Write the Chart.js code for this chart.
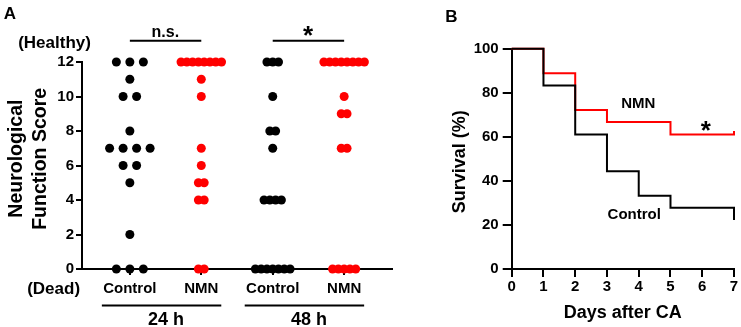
<!DOCTYPE html>
<html>
<head>
<meta charset="utf-8">
<script src="https://cdn.jsdelivr.net/npm/chart.js@4"></script>
<style>
html, body { margin: 0; padding: 0; background: #fff; }
#wrap { position: relative; width: 741px; height: 327px; overflow: hidden; }
canvas { position: absolute; top: 0; }
#chartA { left: 0; }
#chartB { left: 420px; }
</style>
</head>
<body>
<div id="wrap">
  <canvas id="chartA" width="410" height="327"></canvas>
  <canvas id="chartB" width="321" height="327"></canvas>
</div>
<script>
const FONT = '"Liberation Sans", Arial, Helvetica, sans-serif';
const RED = '#ff0000';
const BLACK = '#000000';

// Panel A: neurological function score, one value per animal
const groupLabels = ['Control', 'NMN', 'Control', 'NMN'];
const timeLabels = ['24 h', '48 h'];
const control24 = [12, 12, 12, 11, 10, 10, 8, 7, 7, 7, 7, 6, 6, 5, 2, 0, 0, 0];
const nmn24 = [12, 12, 12, 12, 12, 12, 12, 12, 11, 10, 7, 6, 5, 5, 4, 4, 0, 0];
const control48 = [12, 12, 12, 10, 8, 8, 7, 4, 4, 4, 4, 0, 0, 0, 0, 0, 0, 0];
const nmn48 = [12, 12, 12, 12, 12, 12, 12, 12, 10, 9, 9, 7, 7, 0, 0, 0, 0, 0];
const scoreTicks = [0, 2, 4, 6, 8, 10, 12];
const sigLabels = ['n.s.', '*'];

// Panel B: survival after CA (%)
const controlDays = [0, 1, 2, 3, 4, 5, 7];
const controlSurvival = [100, 83.3, 61.1, 44.4, 33.3, 27.8, 22.2];
const nmnDays = [0, 1, 2, 3, 5, 7];
const nmnSurvival = [100, 88.9, 72.2, 66.7, 61.1, 62.6];
const dayTicks = [0, 1, 2, 3, 4, 5, 6, 7];
const survivalTicks = [0, 20, 40, 60, 80, 100];

const tickFont = { family: FONT, size: 15, weight: 'bold' };

// spread equal scores sideways like a dot plot
function spread(values, index) {
  const counts = {};
  values.forEach(v => counts[v] = (counts[v] || 0) + 1);
  const maxRow = Math.max(...Object.values(counts));
  const gap = maxRow > 4 ? 0.081 : 0.189;
  const seen = {};
  return values.map(v => {
    const k = seen[v] = (seen[v] || 0) + 1;
    return { x: index + (k - 1 - (counts[v] - 1) / 2) * gap, y: v };
  });
}

// draw text centred on its ink box
function inkText(ctx, text, cx, cy, font, rotate) {
  ctx.save();
  ctx.translate(cx, cy);
  if (rotate) ctx.rotate(-Math.PI / 2);
  ctx.font = font;
  ctx.textAlign = 'left';
  ctx.textBaseline = 'alphabetic';
  const m = ctx.measureText(text);
  const w = m.actualBoundingBoxLeft + m.actualBoundingBoxRight;
  const h = m.actualBoundingBoxAscent + m.actualBoundingBoxDescent;
  ctx.fillText(text, -w / 2 + m.actualBoundingBoxLeft, -h / 2 + m.actualBoundingBoxAscent);
  ctx.restore();
}

function hLine(ctx, x1, x2, y) {
  ctx.beginPath();
  ctx.moveTo(x1, y);
  ctx.lineTo(x2, y);
  ctx.stroke();
}

const panelAText = {
  id: 'panelAText',
  afterDraw(chart) {
    const { ctx } = chart;
    const x = chart.scales.x;
    ctx.save();
    ctx.fillStyle = BLACK;
    ctx.strokeStyle = BLACK;
    ctx.lineWidth = 2;
    inkText(ctx, 'A', 9.7, 12.8, `bold 17px ${FONT}`);
    inkText(ctx, '(Healthy)', 54.2, 43, `bold 17px ${FONT}`);
    inkText(ctx, '(Dead)', 53.3, 289.2, `bold 17px ${FONT}`);
    inkText(ctx, 'Neurological', 16.7, 158.3, `bold 19.5px ${FONT}`, true);
    inkText(ctx, 'Function Score', 38.3, 158.3, `bold 19.5px ${FONT}`, true);

    [[1, 2], [3, 4]].forEach(([a, b], i) => {
      const xa = x.getPixelForValue(a);
      const xb = x.getPixelForValue(b);
      // time group underline
      hLine(ctx, xa - 28, xb + 20, 305.5);
      inkText(ctx, timeLabels[i], (xa + xb) / 2, 318.7, `bold 18px ${FONT}`);
      // significance bar
      hLine(ctx, xa, xb, 40.7);
      if (sigLabels[i] === '*') {
        inkText(ctx, '*', (xa + xb) / 2, 31.3, `bold 26px ${FONT}`);
      } else {
        inkText(ctx, sigLabels[i], (xa + xb) / 2, 32.2, `bold 16px ${FONT}`);
      }
    });
    ctx.restore();
  }
};

const panelBText = {
  id: 'panelBText',
  afterDraw(chart) {
    const { ctx } = chart;
    const off = 420;
    ctx.save();
    ctx.fillStyle = BLACK;
    inkText(ctx, 'B', 451.7 - off, 15.8, `bold 17px ${FONT}`);
    inkText(ctx, 'Survival (%)', 460 - off, 161.7, `bold 18px ${FONT}`, true);
    inkText(ctx, 'Days after CA', 623.3 - off, 313.3, `bold 18px ${FONT}`);
    inkText(ctx, 'NMN', 638.3 - off, 103.3, `bold 15px ${FONT}`);
    inkText(ctx, 'Control', 634.2 - off, 213.3, `bold 15px ${FONT}`);
    inkText(ctx, '*', 706.2 - off, 126.3, `bold 26px ${FONT}`);
    ctx.restore();
  }
};

const groupSets = [control24, nmn24, control48, nmn48];
const groupColors = [BLACK, RED, BLACK, RED];

new Chart(document.getElementById('chartA'), {
  type: 'scatter',
  data: {
    datasets: groupSets.map((vals, i) => ({
      label: groupLabels[i],
      data: spread(vals, i + 1),
      backgroundColor: groupColors[i],
      borderWidth: 0,
      pointRadius: 4.5,
      pointHoverRadius: 4.5,
      clip: false
    }))
  },
  options: {
    responsive: false,
    animation: false,
    devicePixelRatio: 1,
    layout: { padding: { top: 62, right: 18, left: 0, bottom: 0 } },
    scales: {
      x: {
        type: 'linear',
        min: 0.33,
        max: 4.67,
        afterBuildTicks: s => { s.ticks = groupLabels.map((_, i) => ({ value: i + 1 })); },
        afterFit: s => { s.height = 58; },
        ticks: {
          callback: (v, i) => groupLabels[i],
          font: tickFont,
          color: BLACK,
          padding: 5,
          maxRotation: 0,
          autoSkip: false
        },
        grid: { drawOnChartArea: false, tickLength: 6, color: BLACK, lineWidth: 2 },
        border: { color: BLACK, width: 2 }
      },
      y: {
        min: 0,
        max: 12,
        afterBuildTicks: s => { s.ticks = scoreTicks.map(v => ({ value: v })); },
        afterFit: s => { s.width = 82; },
        ticks: { font: tickFont, color: BLACK, padding: 2 },
        grid: { drawOnChartArea: false, tickLength: 6, color: BLACK, lineWidth: 2 },
        border: { color: BLACK, width: 2 }
      }
    },
    plugins: { legend: { display: false }, tooltip: { enabled: false } }
  },
  plugins: [panelAText]
});

new Chart(document.getElementById('chartB'), {
  type: 'line',
  data: {
    datasets: [
      {
        label: 'Control',
        data: controlDays.map((d, i) => ({ x: d, y: controlSurvival[i] })),
        borderColor: BLACK,
        borderWidth: 2,
        stepped: 'before',
        pointRadius: 0,
        fill: false,
        clip: false
      },
      {
        label: 'NMN',
        data: nmnDays.map((d, i) => ({ x: d, y: nmnSurvival[i] })),
        borderColor: RED,
        borderWidth: 2,
        stepped: 'before',
        pointRadius: 0,
        fill: false,
        clip: false
      }
    ]
  },
  options: {
    responsive: false,
    animation: false,
    devicePixelRatio: 1,
    layout: { padding: { top: 48.7, right: 7, left: 0, bottom: 0 } },
    scales: {
      x: {
        type: 'linear',
        min: 0,
        max: 7,
        afterBuildTicks: s => { s.ticks = dayTicks.map(v => ({ value: v })); },
        afterFit: s => { s.height = 58; },
        ticks: { font: tickFont, color: BLACK, padding: 1, maxRotation: 0, autoSkip: false },
        grid: { drawOnChartArea: false, tickLength: 8, color: BLACK, lineWidth: 2 },
        border: { color: BLACK, width: 2 }
      },
      y: {
        min: 0,
        max: 100,
        afterBuildTicks: s => { s.ticks = survivalTicks.map(v => ({ value: v })); },
        afterFit: s => { s.width = 91.7; },
        ticks: { font: tickFont, color: BLACK, padding: 4 },
        grid: { drawOnChartArea: false, tickLength: 9, color: BLACK, lineWidth: 2 },
        border: { color: BLACK, width: 2 }
      }
    },
    plugins: { legend: { display: false }, tooltip: { enabled: false } }
  },
  plugins: [panelBText]
});
</script>
</body>
</html>
